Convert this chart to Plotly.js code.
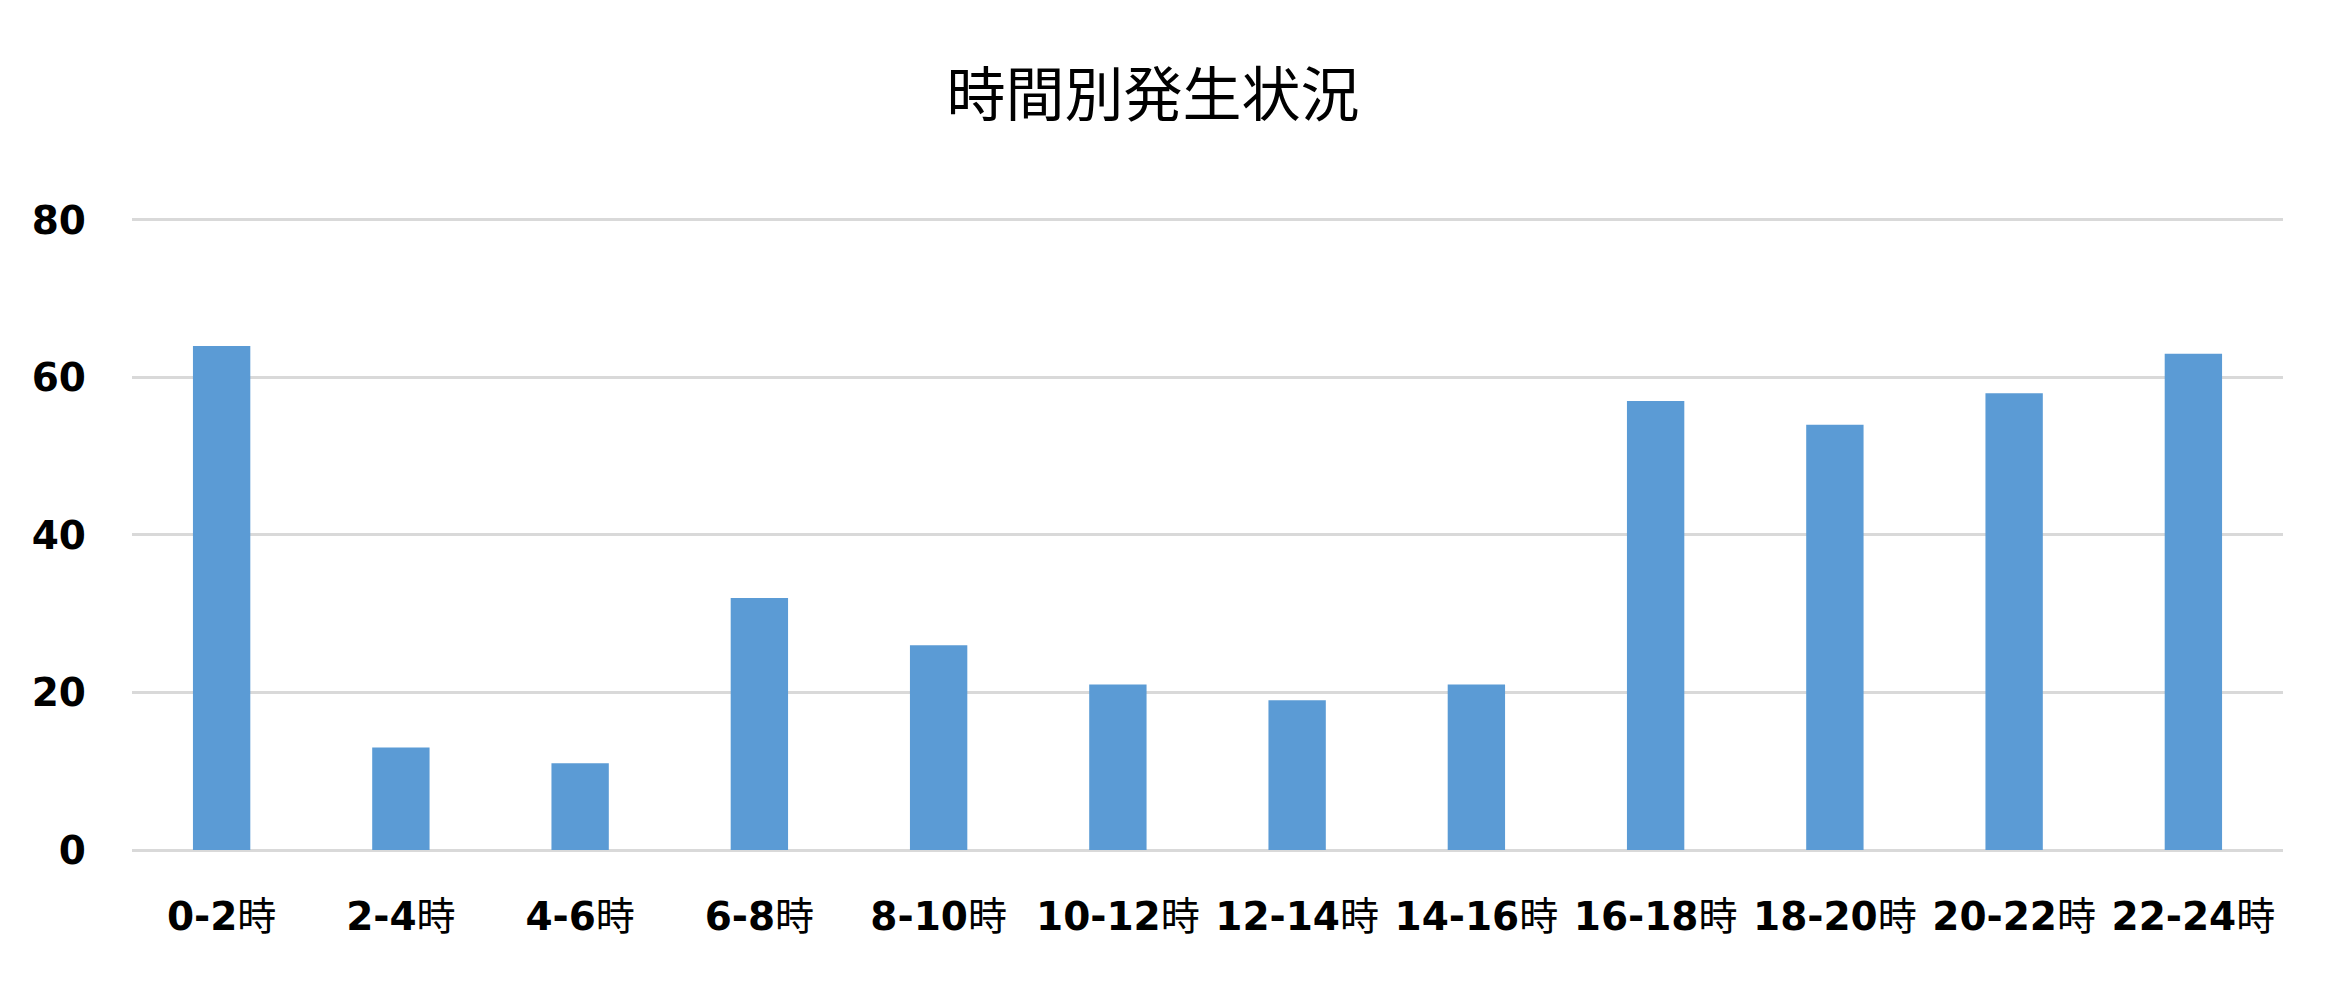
<!DOCTYPE html>
<html>
<head>
<meta charset="utf-8">
<script src="https://cdn.plot.ly/plotly-3.0.1.min.js"></script>
<style>
  html, body { margin: 0; padding: 0; background: #fff; }
  #chart { width: 2334px; height: 990px; }
</style>
</head>
<body>
<div id="chart"></div>
<script>
// time slots and counts
const timeSlots = ["0-2時", "2-4時", "4-6時", "6-8時", "8-10時", "10-12時",
                   "12-14時", "14-16時", "16-18時", "18-20時", "20-22時", "22-24時"];
const counts = [64, 13, 11, 32, 26, 21, 19, 21, 57, 54, 58, 63];
const yTicks = [0, 20, 40, 60, 80];

// bold the hour range, keep 時 regular like the original
const tickText = timeSlots.map(s => "<b>" + s.replace("時", "") + "</b>時");

const trace = {
  x: timeSlots,
  y: counts,
  type: "bar",
  marker: { color: "#5b9bd5" },
  hoverinfo: "x+y",
};

const layout = {
  width: 2334,
  height: 990,
  paper_bgcolor: "#fff",
  plot_bgcolor: "#fff",
  // range goes a hair past 80 so the top gridline is still drawn
  margin: { l: 132, r: 51, t: 218, b: 140 },
  bargap: 0.68,
  showlegend: false,
  title: {
    text: "時間別発生状況",
    x: 0.494,
    xanchor: "center",
    y: 0.904,
    yanchor: "middle",
    font: { family: "Noto Sans CJK JP", size: 59, color: "#000" },
  },
  xaxis: {
    type: "category",
    tickvals: timeSlots,
    ticktext: tickText,
    showgrid: false,
    zeroline: false,
    showline: false,
    ticks: "",
    ticklabelstandoff: 40,
    tickfont: { family: "DejaVu Sans, Noto Sans CJK JP", size: 39, color: "#000" },
  },
  yaxis: {
    range: [0, 80.25],
    tickvals: yTicks,
    ticktext: yTicks.map(v => "<b>" + v + "</b>"),
    showgrid: true,
    gridcolor: "#d9d9d9",
    gridwidth: 3,
    zeroline: true,
    zerolinecolor: "#d9d9d9",
    zerolinewidth: 3,
    showline: false,
    ticks: "",
    ticklabelstandoff: 45,
    tickfont: { family: "DejaVu Sans", size: 39, color: "#000" },
  },
};

Plotly.newPlot("chart", [trace], layout, { displayModeBar: false, staticPlot: true });
</script>
</body>
</html>
